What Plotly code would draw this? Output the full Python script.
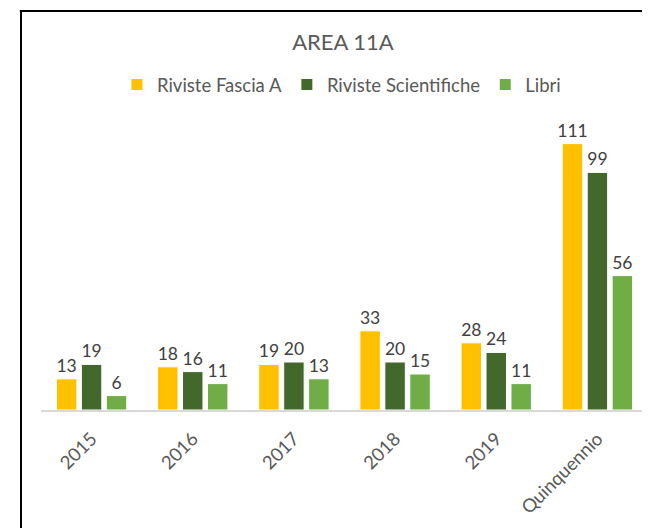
import plotly.graph_objects as go

categories = ["2015", "2016", "2017", "2018", "2019", "Quinquennio"]
fascia_a = [13, 18, 19, 33, 28, 111]
scientifiche = [19, 16, 20, 20, 24, 99]
libri = [6, 11, 13, 15, 11, 56]

series = [
    ("Riviste Fascia A", fascia_a, "#FFC000"),
    ("Riviste Scientifiche", scientifiche, "#43682B"),
    ("Libri", libri, "#70AD47"),
]

FONT = "Lato"
W, H = 650, 528  # page body adds an 8px offset; positions below are shifted by 8px
fig = go.Figure()
for name, vals, col in series:
    fig.add_trace(go.Bar(
        x=categories, y=vals, name=name,
        marker=dict(color=col, line=dict(color="white", width=1)),
        texttemplate="%{y}", textposition="outside", constraintext="none",
        textfont=dict(family=FONT, size=17.5, color="#404040"),
        cliponaxis=False,
    ))

fx0 = -20 / 607
fy1 = (402 - 3) / 288
frame = dict(color="black", width=2)
fig.update_layout(
    width=W, height=H,
    margin=dict(l=33, r=10, t=114, b=126),
    paper_bgcolor="white", plot_bgcolor="white",
    barmode="group", bargap=0.26, bargroupgap=0.18,
    title=dict(text="AREA 11A", x=0.4975, xref="paper", xanchor="center",
               y=1 - 34 / H, yanchor="middle",
               font=dict(family=FONT, size=22, color="#595959")),
    legend=dict(orientation="h", x=0.495, xanchor="center", y=1 - 77 / H, yref="container",
                yanchor="middle", font=dict(family=FONT, size=18.5, color="#595959"),
                bgcolor="rgba(0,0,0,0)"),
    showlegend=True,
    xaxis=dict(showline=True, linecolor="#D9D9D9", linewidth=1.5, tickangle=-45,
               tickfont=dict(family=FONT, size=18.5, color="#595959"), ticks="",
               ticklabelstandoff=9, automargin=False,
               showgrid=False, zeroline=False),
    yaxis=dict(range=[0, 120], visible=False, showgrid=False, zeroline=False),
    shapes=[
        dict(type="line", xref="paper", yref="paper", x0=fx0, x1=fx0, y0=-1.0, y1=fy1, line=frame),
        dict(type="line", xref="paper", yref="paper", x0=fx0 - 0.002, x1=1.2, y0=fy1, y1=fy1, line=frame),
    ],
)

fig.write_html("out.html")
